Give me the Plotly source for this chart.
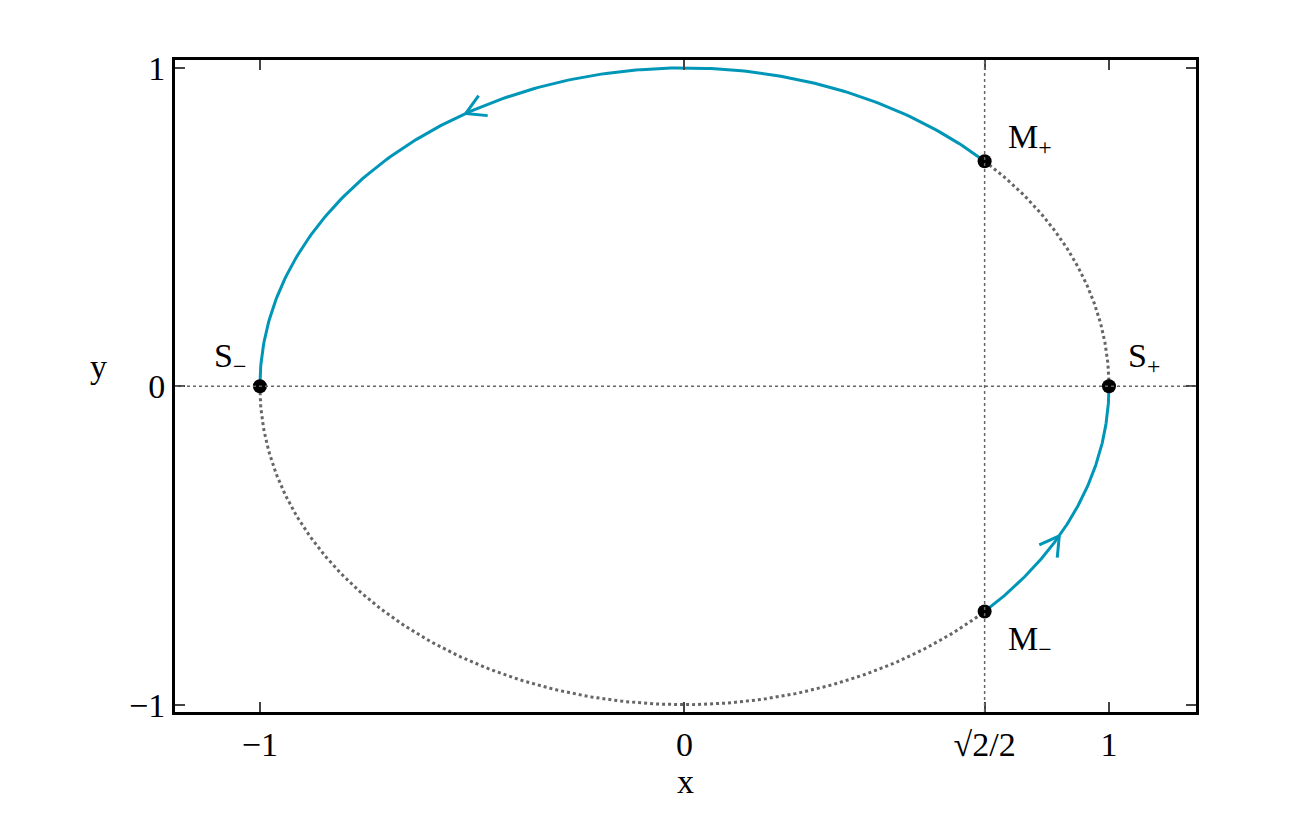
import numpy as np
import plotly.graph_objects as go

# key points on the unit circle
pt_names = ["S<sub>−</sub>", "S<sub>+</sub>", "M<sub>+</sub>", "M<sub>−</sub>"]
pt_angles = [np.pi, 0.0, np.pi / 4, -np.pi / 4]
# arcs (start angle, end angle) in degrees
solid_arcs = [(180, 45), (-45, 0)]
dotted_arcs = [(45, 0), (180, 315)]
arrow_angles = [121, -28]
xtick_vals = [-1, 0, np.sqrt(2) / 2, 1]
xtick_text = ["−1", "0", "√2/2", "1"]
ytick_vals = [-1, 0, 1]
ytick_text = ["−1", "0", "1"]

blue = "#0096b8"
grey = "#666666"
font = dict(family="Liberation Serif, DejaVu Serif, serif", size=34, color="black")

fig = go.Figure()


def arc(a0, a1):
    t = np.radians(np.linspace(a0, a1, 200))
    return np.cos(t), np.sin(t)


for a0, a1 in dotted_arcs:
    x, y = arc(a0, a1)
    fig.add_trace(go.Scatter(x=x, y=y, mode="lines",
                             line=dict(color=grey, width=3, dash="dot")))
for a0, a1 in solid_arcs:
    x, y = arc(a0, a1)
    fig.add_trace(go.Scatter(x=x, y=y, mode="lines", line=dict(color=blue, width=3)))

# reference lines
fig.add_hline(y=0, line=dict(color=grey, width=1.5, dash="dot"))
fig.add_vline(x=np.sqrt(2) / 2, line=dict(color=grey, width=1.5, dash="dot"))

# open chevron arrows pointing counterclockwise (in pixel-scaled units)
sx, sy = 424.5, 318.5  # px per unit
for a in arrow_angles:
    t = np.radians(a)
    tipx, tipy = np.cos(t), np.sin(t)
    # tangent direction in pixel space
    dx, dy = -np.sin(t) * sx, np.cos(t) * sy
    n = np.hypot(dx, dy)
    dx, dy = dx / n, dy / n
    L = 22
    xs, ys = [], []
    for s in (1, -1):
        ang = np.arctan2(dy, dx) + np.pi + s * np.radians(30)
        xs += [tipx + L * np.cos(ang) / sx, tipx, None]
        ys += [tipy + L * np.sin(ang) / sy, tipy, None]
    fig.add_trace(go.Scatter(x=xs, y=ys, mode="lines", line=dict(color=blue, width=3)))

px = [np.cos(a) for a in pt_angles]
py = [np.sin(a) for a in pt_angles]
fig.add_trace(go.Scatter(x=px, y=py, mode="markers",
                         marker=dict(color="black", size=14, line=dict(width=0))))

offsets = [(-30, -28), (35, -28), (45, -22), (45, 30)]
for name, x, y, (dx, dy) in zip(pt_names, px, py, offsets):
    fig.add_annotation(x=x, y=y, text=name, showarrow=False, xshift=dx, yshift=-dy,
                       font=font)

fig.add_annotation(x=-0.085, y=0.5, xref="paper", yref="paper", text="y",
                   showarrow=False, font=font, yshift=20)

axis = dict(showgrid=False, zeroline=False, ticks="inside", ticklen=10, tickwidth=1.5,
            mirror="ticks", showline=True, linecolor="black", linewidth=3,
            tickfont=font, automargin=False)
fig.update_xaxes(range=[-1.2, 1.205], tickvals=xtick_vals, ticktext=xtick_text,
                 title=dict(text="x", font=font, standoff=0), **axis)
fig.update_yaxes(range=[-1.023, 1.025], tickvals=ytick_vals, ticktext=ytick_text, **axis)

fig.update_layout(width=1314, height=825, showlegend=False,
                  plot_bgcolor="white", paper_bgcolor="white",
                  margin=dict(l=167, r=126, t=52, b=121), font=font)

fig.write_html("out.html")
